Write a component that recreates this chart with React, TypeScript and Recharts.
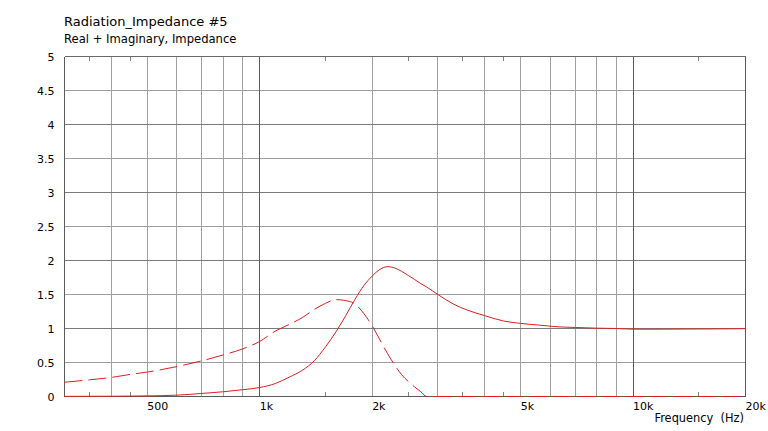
import React from "react";
import { LineChart, Line, XAxis, YAxis, ReferenceLine } from "recharts";

// frequency points (Hz) and the two impedance parts
const FREQ = [
  300, 350, 400, 450, 500, 600, 700, 800, 900, 1000, 1100, 1200, 1300, 1400,
  1500, 1600, 1700, 1800, 1900, 2000, 2100, 2200, 2300, 2400, 2500, 2600,
  2700, 2800, 3000, 3300, 3600, 4000, 4500, 5000, 5600, 6300, 7000, 8000,
  9000, 10000, 12000, 14000, 16000, 18000, 20000,
];
const REAL = [
  0.002, 0.003, 0.004, 0.006, 0.009, 0.02, 0.045, 0.07, 0.1, 0.132, 0.19,
  0.285, 0.385, 0.525, 0.73, 0.95, 1.19, 1.43, 1.63, 1.77, 1.87, 1.91, 1.89,
  1.84, 1.78, 1.72, 1.66, 1.61, 1.5, 1.36, 1.27, 1.19, 1.11, 1.075, 1.05,
  1.025, 1.015, 1.005, 1.0, 0.99, 0.99, 0.992, 0.993, 0.995, 0.998,
];
const IMAG = [
  0.21, 0.245, 0.28, 0.325, 0.36, 0.44, 0.525, 0.613, 0.7, 0.81, 0.96, 1.06,
  1.16, 1.28, 1.37, 1.425, 1.41, 1.36, 1.22, 1.04, 0.83, 0.63, 0.46, 0.32,
  0.22, 0.14, 0.07, 0, 0, 0, 0, 0, 0, 0, 0, 0, 0, 0, 0, 0, 0, 0, 0, 0, 0,
];

const X_LABELS = [500, 1000, 2000, 5000, 10000, 20000];
const X_GRID = [400, 500, 600, 700, 800, 900, 2000, 3000, 4000, 5000, 6000, 7000, 8000, 9000];
const X_DECADES = [1000, 10000];
const X_MINOR_TICKS = [350, 450, 1500, 2500, 3500, 4500, 15000];
const Y_TICKS = [0, 0.5, 1, 1.5, 2, 2.5, 3, 3.5, 4, 4.5, 5];
const Y_MAJOR = [1, 2, 3, 4];
const Y_MINOR = [0.5, 1.5, 2.5, 3.5, 4.5];

const data = FREQ.map((f, i) => ({ f, real: REAL[i], imag: IMAG[i] }));

const RED = "#dd2020";
const FONT = "'DejaVu Sans', Verdana, sans-serif";

const fmtFreq = (v: number) => (v >= 1000 ? `${v / 1000}k` : `${v}`);

const XTick = (props: any) => {
  const { x, y, payload } = props;
  return (
    <text x={x} y={y + 13.5} textAnchor="start" fontSize={11} fontFamily={FONT} fill="#000">
      {fmtFreq(payload.value)}
    </text>
  );
};

const YTick = (props: any) => {
  const { x, y, payload } = props;
  return (
    <text x={x - 10} y={y + 4} textAnchor="end" fontSize={11} fontFamily={FONT} fill="#000">
      {String(payload.value)}
    </text>
  );
};

export default function App() {
  const crisp = { shapeRendering: "crispEdges" } as any;
  return (
    <div style={{ position: "absolute", left: 0, top: 0, width: 768, height: 431, background: "#fff" }}>
      <LineChart width={768} height={431} data={data} margin={{ top: 56.5, right: 22.5, bottom: 4.5, left: 0.5 }}>
        <XAxis
          dataKey="f"
          type="number"
          scale="log"
          domain={[300, 20000]}
          allowDataOverflow
          ticks={X_LABELS}
          tick={XTick}
          axisLine={false}
          tickLine={false}
          tickSize={0}
          tickMargin={0}
          height={30}
        />
        <YAxis
          type="number"
          domain={[0, 5]}
          ticks={Y_TICKS}
          tick={YTick}
          axisLine={false}
          tickLine={false}
          tickSize={0}
          tickMargin={0}
          width={64}
        />
        {X_GRID.map((v) => (
          <ReferenceLine key={`xg${v}`} x={v} stroke="#a0a0a0" {...crisp} />
        ))}
        {Y_MINOR.map((v) => (
          <ReferenceLine key={`yn${v}`} y={v} stroke="#a0a0a0" {...crisp} />
        ))}
        {Y_MAJOR.map((v) => (
          <ReferenceLine key={`ym${v}`} y={v} stroke="#7a7a7a" {...crisp} />
        ))}
        {X_DECADES.map((v) => (
          <ReferenceLine key={`xd${v}`} x={v} stroke="#5a5a5a" {...crisp} />
        ))}
        {X_MINOR_TICKS.map((v) => (
          <ReferenceLine key={`tb${v}`} segment={[{ x: v, y: 0 }, { x: v, y: 0.06 }]} stroke="#808080" {...crisp} />
        ))}
        {X_MINOR_TICKS.map((v) => (
          <ReferenceLine key={`tt${v}`} segment={[{ x: v, y: 5 }, { x: v, y: 4.94 }]} stroke="#808080" {...crisp} />
        ))}
        <ReferenceLine x={300} stroke="#5a5a5a" {...crisp} />
        <ReferenceLine x={20000} stroke="#5a5a5a" {...crisp} />
        <ReferenceLine y={0} stroke="#5a5a5a" {...crisp} />
        <ReferenceLine y={5} stroke="#6a6a6a" {...crisp} />
        <Line
          dataKey="imag"
          type="monotone"
          stroke={RED}
          strokeWidth={1}
          strokeDasharray="18 6"
          dot={false}
          activeDot={false}
          isAnimationActive={false}
        />
        <Line
          dataKey="real"
          type="monotone"
          stroke={RED}
          strokeWidth={1}
          dot={false}
          activeDot={false}
          isAnimationActive={false}
        />
      </LineChart>
      <svg width={768} height={431} style={{ position: "absolute", left: 0, top: 0, pointerEvents: "none" }}>
        <text x={64} y={26} fontSize={13} fontFamily={FONT} fill="#000">
          Radiation_Impedance #5
        </text>
        <text x={64} y={43} fontSize={11.6} fontFamily={FONT} fill="#000">
          Real + Imaginary, Impedance
        </text>
        <text x={744} y={422} fontSize={11.4} fontFamily={FONT} fill="#000" textAnchor="end" xmlSpace="preserve">
          {"Frequency  (Hz)"}
        </text>
      </svg>
    </div>
  );
}
